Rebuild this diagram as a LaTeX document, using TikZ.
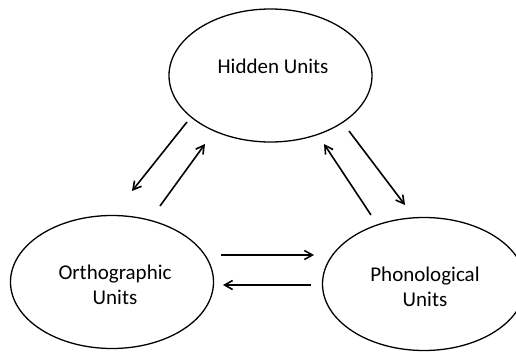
\documentclass[tikz,border=0pt]{standalone}
\usepackage{fontspec}
\setmainfont{Carlito}
\usetikzlibrary{shapes.geometric,arrows.meta}
\begin{document}
\begin{tikzpicture}[x=1pt,y=-1pt,
  unit/.style={draw, ellipse, line width=1.3pt, inner sep=0pt,
               minimum width=203pt, minimum height=133pt},
  caption/.style={font=\fontsize{21}{25}\selectfont, align=center, inner sep=0pt},
  link/.style={line width=1.6pt, -{Straight Barb[length=8pt,width=9pt,line width=1.6pt]}}]
  \useasboundingbox (0,0) rectangle (516,351);

  % the three layers of units
  \node[unit] (hidden) at (270.5,75.5) {};
  \node[unit] (ortho)  at (112,282) {};
  \node[unit] (phono)  at (424,284) {};

  \node[caption] (hiddenlbl) at (273,66) {Hidden Units};
  \node[caption] (ortholbl)  at (115,285) {Orthographic\\Units};
  \node[caption] (phonolbl)  at (425,287) {Phonological\\Units};

  % end points of the connections between layers
  \coordinate (hoA) at (187,122);
  \coordinate (hoB) at (132,191);
  \coordinate (ohA) at (160,206);
  \coordinate (ohB) at (205,144);
  \coordinate (hpA) at (349,131);
  \coordinate (hpB) at (405,205);
  \coordinate (phA) at (371,215);
  \coordinate (phB) at (324,144);
  \coordinate (opA) at (221,255);
  \coordinate (opB) at (314,255);
  \coordinate (poA) at (311,285);
  \coordinate (poB) at (223,285);

  \draw[link] (hoA) -- (hoB);
  \draw[link] (ohA) -- (ohB);
  \draw[link] (hpA) -- (hpB);
  \draw[link] (phA) -- (phB);
  \draw[link] (opA) -- (opB);
  \draw[link] (poA) -- (poB);
\end{tikzpicture}
\end{document}
